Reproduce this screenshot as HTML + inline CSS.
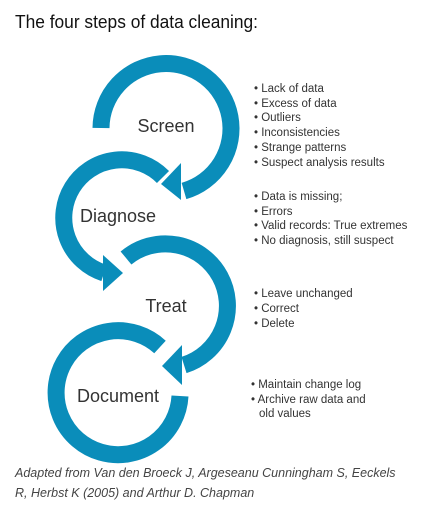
<!DOCTYPE html>
<html><head><meta charset="utf-8"><style>
html,body{margin:0;padding:0;background:#fff;width:447px;height:514px;overflow:hidden}
svg{display:block}
</style></head><body>
<svg width="447" height="514" viewBox="0 0 447 514" xmlns="http://www.w3.org/2000/svg" font-family="Liberation Sans, sans-serif">
<text x="15" y="28" font-size="18" fill="#111" textLength="243" lengthAdjust="spacingAndGlyphs">The four steps of data cleaning:</text>
<g fill="none" stroke="#0a8dba" stroke-width="17" stroke-linecap="butt">
<path d="M101,128 A65,65 0 1 1 184,191"/>
<path d="M163,177 A58,58 0 1 0 104,273"/>
<path d="M126,258 A62,62 0 1 1 184,365"/>
<path d="M160,347 A62,62 0 1 0 180,396"/>
</g>
<g fill="#0a8dba">
<polygon points="181,163 181,200 161,184"/>
<polygon points="103,255 103,291 123,273"/>
<polygon points="182,345 182,385 162,366"/>
</g>
<g font-size="18" fill="#333" text-anchor="middle">
<text x="166" y="132">Screen</text>
<text x="118" y="222">Diagnose</text>
<text x="166" y="312">Treat</text>
<text x="118" y="402">Document</text>
</g>
<g font-size="11.5" fill="#333">
<text x="254" y="92">• Lack of data</text>
<text x="254" y="107">• Excess of data</text>
<text x="254" y="121">• Outliers</text>
<text x="254" y="136">• Inconsistencies</text>
<text x="254" y="151">• Strange patterns</text>
<text x="254" y="166">• Suspect analysis results</text>
<text x="254" y="200">• Data is missing;</text>
<text x="254" y="215">• Errors</text>
<text x="254" y="229">• Valid records: True extremes</text>
<text x="254" y="244">• No diagnosis, still suspect</text>
<text x="254" y="297">• Leave unchanged</text>
<text x="254" y="312">• Correct</text>
<text x="254" y="327">• Delete</text>
<text x="251" y="388">• Maintain change log</text>
<text x="251" y="403">• Archive raw data and</text>
<text x="259" y="417">old values</text>
</g>
<g font-size="12.5" fill="#444" font-style="italic">
<text x="15" y="477">Adapted from Van den Broeck J, Argeseanu Cunningham S, Eeckels</text>
<text x="15" y="497">R, Herbst K (2005) and Arthur D. Chapman</text>
</g>
</svg>
</body></html>
